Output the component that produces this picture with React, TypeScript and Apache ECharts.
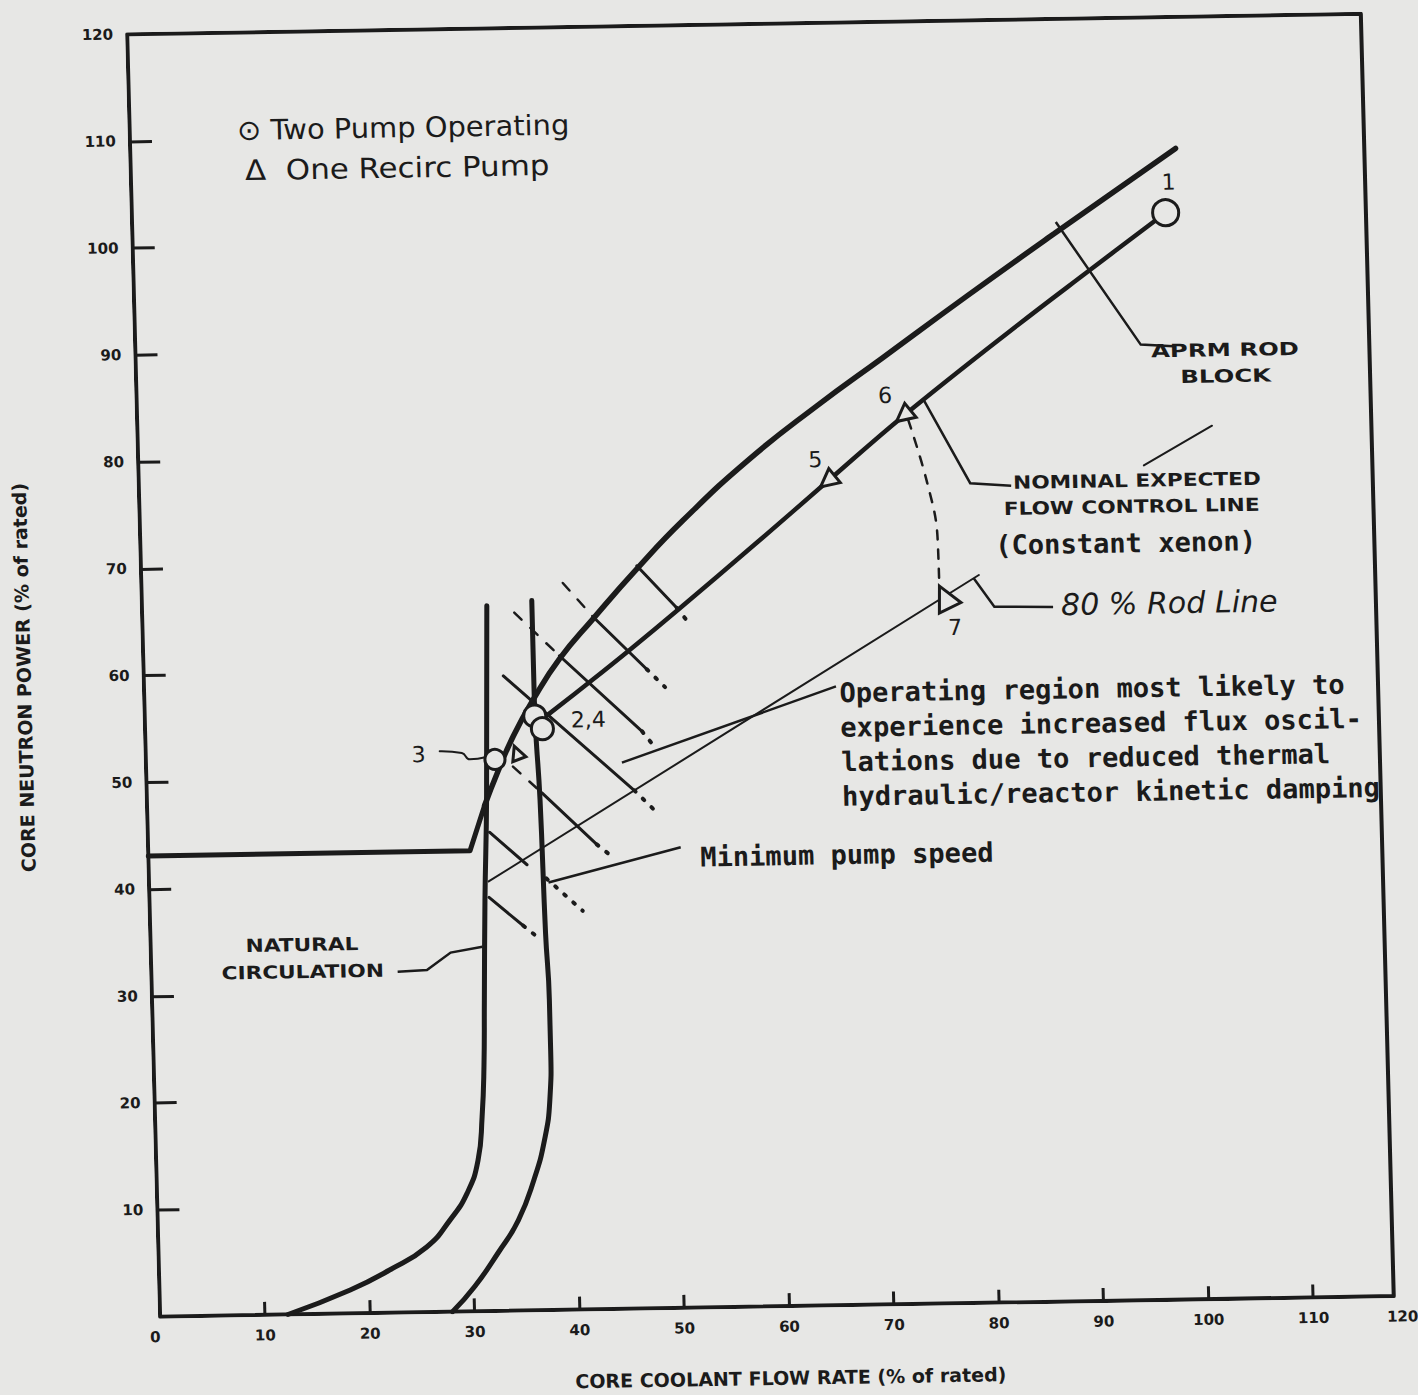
import React, { useEffect, useRef } from "react";
import * as echarts from "echarts";

// ---------- data ----------
const X_TITLE = "CORE COOLANT FLOW RATE (% of rated)";
const Y_TITLE = "CORE NEUTRON POWER (% of rated)";
const X_TICK_MARKS = [10, 20, 30, 40, 50, 60, 70, 80, 90, 100, 110];
const Y_TICK_MARKS = [10, 20, 30, 40, 50, 60, 70, 80, 90, 100, 110];

const FRAME_X = [0, 0, 117.7, 117.7, 0];
const FRAME_Y = [0, 120, 120, 0, 0];

const NATURAL_CIRC_X = [12.2, 18.2, 22.0, 25.6, 27.9, 29.6, 30.7, 31.2, 31.5, 31.7, 32.0, 32.4, 32.9];
const NATURAL_CIRC_Y = [0, 2.2, 4.0, 6.1, 8.6, 11.1, 14.1, 18.2, 22.9, 29.1, 38.4, 47.8, 66.0];

const MIN_PUMP_X = [27.9, 30.1, 32.4, 34.4, 36.0, 37.1, 37.7, 37.9, 37.9, 37.7, 37.5, 37.2, 37.2];
const MIN_PUMP_Y = [0, 2.35, 5.45, 8.45, 12.25, 15.95, 19.65, 24.35, 29.05, 35.25, 47.75, 57.2, 66.4];

const APRM_BASE_X = [0, 30.7, 32.2];
const APRM_BASE_Y = [43.1, 43.1, 47.3];
const APRM_CURVE_X = [32.2, 33.5, 35.1, 37.1, 39.7, 43.0, 47.3, 51.8, 58.3, 64.9, 71.3, 79.5, 87.9, 99.7];
const APRM_CURVE_Y = [47.3, 50.35, 53.75, 57.15, 60.9, 64.6, 69.2, 73.65, 79.3, 84.2, 88.6, 94.25, 99.9, 107.7];

const FLOW_CONTROL_X = [37.5, 42.8, 46.5, 51.1, 58.9, 65.7, 73.1, 84.2, 91.3, 98.6];
const FLOW_CONTROL_Y = [55.0, 58.9, 61.7, 65.3, 71.55, 77.1, 83.1, 91.4, 96.5, 101.7];

const ROD_LINE_80_X = [32.4, 79.9];
const ROD_LINE_80_Y = [40.2, 68.1];

const TRANSITION_6_7_X = [73.55, 75.2, 76.05, 76.1];
const TRANSITION_6_7_Y = [82.7, 76.8, 71.7, 67.3];

// hatching across the unstable operating region
const HATCH_SOLID = [
  [[47.3, 69.5], [51.0, 65.5]],
  [[43.0, 64.8], [48.0, 59.8]],
  [[39.7, 61.2], [47.4, 54.0]],
  [[34.3, 59.4], [46.5, 48.5]],
  [[37.7, 48.4], [42.8, 43.5]],
  [[32.6, 44.8], [36.1, 41.7]],
  [[32.4, 38.7], [35.6, 36.0]],
];
const HATCH_DASHED = [
  [[40.2, 68.0], [43.0, 64.8]],
  [[35.5, 65.3], [39.7, 61.2]],
  [[35.0, 50.9], [37.7, 48.4]],
];
const HATCH_DOTTED = [
  [[51.0, 65.5], [52.1, 64.1]],
  [[48.0, 59.8], [49.7, 58.1]],
  [[47.4, 54.0], [48.5, 52.6]],
  [[46.5, 48.5], [48.5, 46.5]],
  [[42.8, 43.5], [43.9, 42.6]],
  [[37.9, 40.4], [41.3, 37.3]],
  [[35.6, 36.0], [36.7, 35.1]],
];

// annotation leaders (arrow at the last point)
const LEADER_APRM = [[99.0, 89.2], [95.9, 89.4], [88.1, 101.0]];
const LEADER_NOMINAL = [[83.2, 76.4], [79.3, 76.7], [75.1, 84.5]];
const LEADER_ROD80 = [[86.9, 65.0], [81.3, 65.1], [79.4, 67.8]];
const LEADER_REGION = [[66.0, 57.9], [45.4, 51.1]];
const LEADER_MIN_PUMP = [[50.8, 43.1], [38.1, 40.0]];
const LEADER_NAT_CIRC = [[23.5, 31.9], [26.3, 32.0], [28.6, 33.6], [31.65, 34.1]];
const LEADER_POINT3_X = [28.05, 30.16, 30.9, 32.5];
const LEADER_POINT3_Y = [52.45, 52.25, 51.65, 51.85];
const STRAY_X = [95.9, 102.5];
const STRAY_Y = [78.1, 81.7];

// operating points
const TWO_PUMP_X = [98.6, 37.2, 37.9, 33.3];
const TWO_PUMP_Y = [101.7, 55.6, 54.4, 51.6];
const ONE_PUMP_X = [35.4, 65.7, 73.1, 76.6];
const ONE_PUMP_Y = [52.2, 77.1, 83.1, 66.1];

// ---------- styling ----------
const INK = "#1b1b1b";
const PAPER = "#e7e7e5";
const TWO_PUMP_SIZE = [26, 22, 22, 20];
const ONE_PUMP_SIZE = [14, 18, 18, 24];
const ONE_PUMP_ROT = [20, 128, 128, 25];

const pairs = (xs: number[], ys: number[]) => xs.map((x, i) => [x, ys[i]]);

const lineSeries = (name: string, data: number[][], width: number, extra: any = {}) => ({
  type: "line",
  name,
  data,
  symbol: "none",
  showSymbol: false,
  silent: true,
  lineStyle: { color: INK, width, cap: "round", join: "round", ...(extra.lineStyle || {}) },
  smooth: extra.smooth ?? false,
  z: extra.z ?? 3,
});

const segSeries = (name: string, segs: number[][][], width: number, type: any) => ({
  type: "lines",
  name,
  coordinateSystem: "cartesian2d",
  silent: true,
  data: segs.map((c) => ({ coords: c })),
  lineStyle: { color: INK, width, type, cap: "round", opacity: 1 },
  z: 4,
});

const arrowSeries = (name: string, paths: number[][][]) => ({
  type: "lines",
  name,
  coordinateSystem: "cartesian2d",
  polyline: true,
  silent: true,
  symbol: ["none", "arrow"],
  symbolSize: [12, 22],
  data: paths.map((c) => ({ coords: c })),
  lineStyle: { color: INK, width: 2.5, opacity: 1 },
  z: 5,
});

const txt = (text: string, x: number, y: number, font: string, align = "left", extra: any = {}) => ({
  type: "text",
  x,
  y,
  scaleX: extra.scaleX ?? 1,
  silent: true,
  z: 10,
  style: {
    text,
    font,
    fill: INK,
    align,
    textAlign: align,
    verticalAlign: extra.va ?? "middle",
    textVerticalAlign: extra.va ?? "middle",
    lineHeight: extra.lineHeight,
  },
});

const HAND = '"DejaVu Sans"';
const MONO = '"DejaVu Sans Mono"';
const CAPS = 'bold 18px "DejaVu Sans"';

const option: any = {
  animation: false,
  backgroundColor: "transparent",
  grid: { left: 148, top: 28, width: 1254, height: 1282, containLabel: false },
  xAxis: {
    type: "value",
    min: 0,
    max: 120,
    interval: 10,
    axisLine: { show: false },
    splitLine: { show: false },
    axisTick: { show: true, inside: true, length: 13, lineStyle: { color: INK, width: 3 }, customValues: X_TICK_MARKS },
    axisLabel: {
      margin: 13,
      color: INK,
      fontFamily: "DejaVu Sans",
      fontWeight: "bold",
      fontSize: 15,
      alignMaxLabel: "right",
      alignMinLabel: "right",
    },
    name: X_TITLE,
    nameLocation: "middle",
    nameGap: 62,
    nameTextStyle: { color: INK, fontFamily: "DejaVu Sans", fontWeight: "bold", fontSize: 19 },
  },
  yAxis: {
    type: "value",
    min: 0,
    max: 120,
    interval: 10,
    axisLine: { show: false },
    splitLine: { show: false },
    axisTick: { show: true, inside: true, length: 22, lineStyle: { color: INK, width: 3 }, customValues: Y_TICK_MARKS },
    axisLabel: { margin: 14, color: INK, fontFamily: "DejaVu Sans", fontWeight: "bold", fontSize: 15, showMinLabel: false },
    name: Y_TITLE,
    nameLocation: "middle",
    nameRotate: 90,
    nameGap: 110,
    nameTextStyle: { color: INK, fontFamily: "DejaVu Sans", fontWeight: "bold", fontSize: 19 },
  },
  series: [
    lineSeries("frame", pairs(FRAME_X, FRAME_Y), 4, { z: 2 }),
    lineSeries("Natural circulation", pairs(NATURAL_CIRC_X, NATURAL_CIRC_Y), 5, { smooth: 0.5 }),
    lineSeries("Minimum pump speed", pairs(MIN_PUMP_X, MIN_PUMP_Y), 5, { smooth: 0.5 }),
    lineSeries("APRM rod block (base)", pairs(APRM_BASE_X, APRM_BASE_Y), 5),
    lineSeries("APRM rod block", pairs(APRM_CURVE_X, APRM_CURVE_Y), 5.5, { smooth: 0.5 }),
    lineSeries("Nominal expected flow control line", pairs(FLOW_CONTROL_X, FLOW_CONTROL_Y), 4.5, { smooth: 0.4 }),
    lineSeries("80% rod line", pairs(ROD_LINE_80_X, ROD_LINE_80_Y), 2),
    lineSeries("6 to 7", pairs(TRANSITION_6_7_X, TRANSITION_6_7_Y), 2.5, { smooth: 0.4, lineStyle: { type: [9, 10] } }),
    lineSeries("3 leader", pairs(LEADER_POINT3_X, LEADER_POINT3_Y), 2, { smooth: 0.5 }),
    lineSeries("stray", pairs(STRAY_X, STRAY_Y), 2),
    segSeries("hatch", HATCH_SOLID, 3, "solid"),
    segSeries("hatch dashed", HATCH_DASHED, 2.5, [10, 12]),
    segSeries("hatch dotted", HATCH_DOTTED, 4, [2, 10]),
    arrowSeries("leaders", [LEADER_APRM, LEADER_NOMINAL, LEADER_ROD80, LEADER_REGION, LEADER_MIN_PUMP, LEADER_NAT_CIRC]),
    {
      type: "scatter",
      name: "Two Pump Operating",
      silent: true,
      z: 8,
      data: pairs(TWO_PUMP_X, TWO_PUMP_Y).map((v, i) => ({ value: v, symbolSize: TWO_PUMP_SIZE[i] })),
      symbol: "circle",
      itemStyle: { color: PAPER, borderColor: INK, borderWidth: 3, opacity: 1 },
    },
    {
      type: "scatter",
      name: "One Recirc Pump",
      silent: true,
      z: 8,
      data: pairs(ONE_PUMP_X, ONE_PUMP_Y).map((v, i) => ({
        value: v,
        symbolSize: ONE_PUMP_SIZE[i],
        symbolRotate: ONE_PUMP_ROT[i],
      })),
      symbol: "triangle",
      itemStyle: { color: PAPER, borderColor: INK, borderWidth: 3, opacity: 1 },
    },
  ],
  graphic: [
    txt("⊙ Two Pump Operating", 255, 126, `28px ${HAND}`, "left", { scaleX: 1.03 }),
    txt("Δ  One Recirc Pump", 262, 166, `28px ${HAND}`, "left", { scaleX: 1.1 }),
    txt(
      "Operating region most likely to\nexperience increased flux oscil-\nlations due to reduced thermal\nhydraulic/reactor kinetic damping",
      841,
      680,
      `bold 27px ${MONO}`,
      "left",
      { va: "top", lineHeight: 34.5 }
    ),
    txt("Minimum pump speed", 698, 859, `bold 27px ${MONO}`),
    txt("(Constant xenon)", 1130, 552.5, `bold 27px ${MONO}`, "center"),
    txt("NATURAL", 299, 940.4, CAPS, "center", { scaleX: 1.2 }),
    txt("CIRCULATION", 299, 967.4, CAPS, "center", { scaleX: 1.2 }),
    txt("APRM ROD", 1234, 361.2, CAPS, "center", { scaleX: 1.35 }),
    txt("BLOCK", 1234, 387.3, CAPS, "center", { scaleX: 1.35 }),
    txt("NOMINAL EXPECTED", 1143, 490.7, CAPS, "center", { scaleX: 1.2 }),
    txt("FLOW CONTROL LINE", 1137, 516.6, CAPS, "center", { scaleX: 1.2 }),
    txt("80 % Rod Line", 1172, 613, `italic 30px ${HAND}`, "center"),
    txt("1", 1182, 193, `22px ${HAND}`, "center"),
    txt("5", 823, 464, `22px ${HAND}`, "center"),
    txt("6", 894, 401, `22px ${HAND}`, "center"),
    txt("7", 958, 634, `22px ${HAND}`, "center"),
    txt("2,4", 590, 720, `22px ${HAND}`, "center"),
    txt("3", 420, 752, `22px ${HAND}`, "center"),
  ],
};

export default function App() {
  const ref = useRef<HTMLDivElement>(null);
  useEffect(() => {
    if (!ref.current) return;
    const chart = echarts.init(ref.current, null, { renderer: "svg" });
    chart.setOption(option);
    return () => chart.dispose();
  }, []);
  return (
    <div
      style={{
        position: "fixed",
        left: 0,
        top: 0,
        width: 1418,
        height: 1395,
        background: PAPER,
        overflow: "hidden",
      }}
    >
      <div
        ref={ref}
        style={{
          position: "absolute",
          left: 0,
          top: 0,
          width: 1418,
          height: 1395,
          transformOrigin: "0 0",
          transform: "matrix(1.003, -0.0167, 0.0257, 1.001, -22, 8.8)",
        }}
      />
    </div>
  );
}
